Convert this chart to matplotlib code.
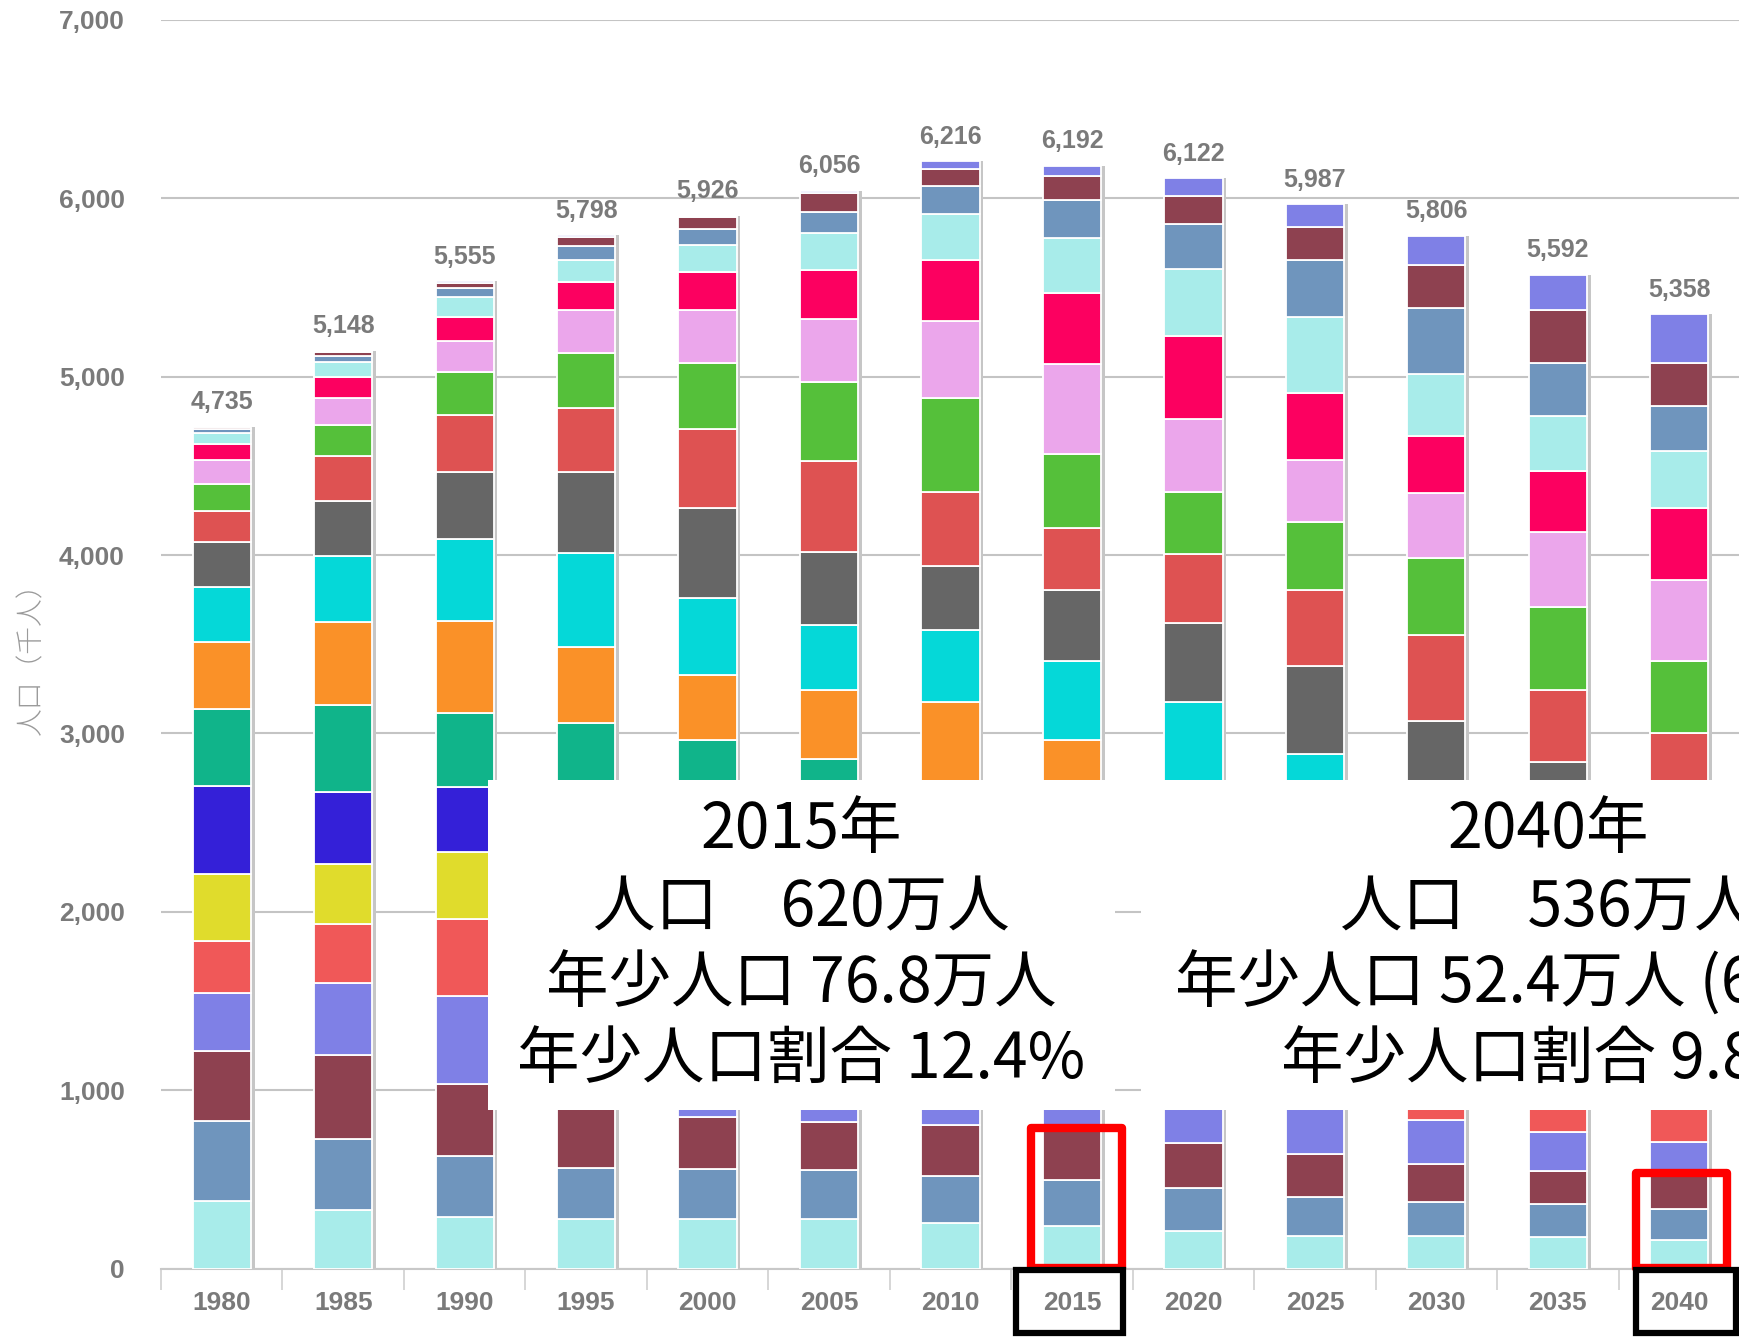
import numpy as np
import matplotlib
matplotlib.use("Agg")
import matplotlib.pyplot as plt
from matplotlib.patches import Rectangle
from matplotlib.ticker import FuncFormatter

# years and totals (thousand people)
years = [1980, 1985, 1990, 1995, 2000, 2005, 2010, 2015, 2020, 2025, 2030, 2035, 2040]
totals = [4735, 5148, 5555, 5798, 5926, 6056, 6216, 6192, 6122, 5987, 5806, 5592, 5358]

age_groups = ["0-4", "5-9", "10-14", "15-19", "20-24", "25-29", "30-34", "35-39", "40-44",
              "45-49", "50-54", "55-59", "60-64", "65-69", "70-74", "75-79", "80-84",
              "85-89", "90+"]

# population by 5-year age group (thousand people)
p1980 = [381, 444, 392, 328, 290, 376, 497, 430, 374, 308, 252, 176, 148, 136, 92, 60, 23, 10, 3]
p1985 = [328, 398, 470, 402, 332, 340, 402, 488, 462, 374, 306, 254, 174, 150, 116, 84, 37, 21, 7]
p1990 = [286, 342, 405, 497, 427, 377, 365, 414, 520, 456, 374, 323, 242, 173, 131, 115, 48, 30, 10]
p1995 = [276, 286, 345, 410, 520, 450, 390, 380, 430, 524, 452, 361, 308, 243, 156, 125, 78, 47, 12]
p2000 = [276, 280, 292, 336, 416, 525, 450, 389, 361, 433, 505, 443, 372, 297, 210, 151, 92, 66, 8]
p2005 = [276, 275, 269, 297, 346, 425, 524, 445, 387, 365, 411, 508, 442, 355, 276, 204, 116, 109, 14]
p2010 = [255, 266, 283, 285, 315, 365, 435, 525, 450, 402, 360, 415, 522, 432, 342, 262, 155, 93, 45]
p2015 = [241, 255, 278, 285, 290, 320, 365, 425, 505, 443, 398, 346, 417, 503, 396, 310, 213, 133, 60]
p2020 = [213, 238, 255, 275, 295, 305, 325, 362, 418, 493, 439, 389, 346, 409, 466, 375, 253, 159, 99]
p2025 = [184, 216, 240, 257, 282, 297, 312, 327, 358, 412, 494, 426, 378, 351, 374, 428, 318, 185, 129]
p2030 = [185, 188, 214, 246, 268, 283, 298, 312, 324, 352, 402, 480, 430, 365, 318, 353, 370, 240, 163]
p2035 = [176, 186, 184, 218, 254, 272, 284, 296, 309, 319, 344, 402, 467, 421, 342, 303, 301, 295, 200]
p2040 = [160, 172, 192, 184, 226, 258, 274, 286, 296, 305, 313, 335, 406, 454, 402, 323, 251, 241, 273]

palette = ["#a8ecea", "#6f95bd", "#8e4150", "#7f80e6", "#f05858", "#e0dc2c", "#3420d8",
           "#10b48a", "#fa9128", "#05d8d8", "#666666", "#de5252", "#55c03a", "#eba6eb",
           "#fc0060"]

data = np.array([p1980, p1985, p1990, p1995, p2000, p2005, p2010, p2015,
                 p2020, p2025, p2030, p2035, p2040])

W, H = 1740, 1340
fig = plt.figure(figsize=(W / 100, H / 100), dpi=100)
ax = fig.add_axes([161 / W, (H - 1268.5) / H, (W - 161) / W, 1248.5 / H])

num_font = ["Liberation Sans", "DejaVu Sans"]
jp_font = ["Noto Sans CJK JP", "DejaVu Sans"]
gray_txt = "#7a7a7a"

x = np.arange(len(years))
bw = 0.48
stack_top = data.sum(axis=1)

# soft shadow behind each column
ax.bar(x + 0.03, stack_top, width=bw, color="#c6c6c6", zorder=2)

bottom = np.zeros(len(years))
for i, grp in enumerate(age_groups):
    ax.bar(x, data[:, i], width=bw, bottom=bottom, color=palette[i % len(palette)],
           edgecolor="white", linewidth=1.3, zorder=3, label=grp)
    bottom += data[:, i]

for xi, top, tot in zip(x, stack_top, totals):
    ax.annotate(f"{tot:,}", (xi, top), xytext=(0, 9), textcoords="offset points",
                ha="center", va="bottom", fontsize=18, fontweight="bold",
                color=gray_txt, family=num_font, zorder=4)

ax.set_xlim(-0.5, len(years) - 0.5)
ax.set_ylim(0, 7000)
ax.set_yticks(range(0, 7001, 1000))
ax.yaxis.set_major_formatter(FuncFormatter(lambda v, p: f"{int(v):,}"))
ax.set_xticks(x)
ax.set_xticklabels([str(y) for y in years])
ax.set_xticks(np.arange(-0.5, len(years)), minor=True)
ax.tick_params(axis="y", length=0, pad=26, labelsize=19, labelcolor=gray_txt)
ax.tick_params(axis="x", which="major", length=0, pad=16, labelsize=19, labelcolor=gray_txt)
ax.tick_params(axis="x", which="minor", length=15, width=1.2, color="#d0d0d0")
for lab in ax.get_xticklabels() + ax.get_yticklabels():
    lab.set_family(num_font)
    lab.set_fontweight("bold")

ax.yaxis.grid(True, color="#c4c4c4", linewidth=1.5, zorder=0)
ax.set_axisbelow(True)
for s in ["left", "right", "top"]:
    ax.spines[s].set_visible(False)
ax.spines["bottom"].set_color("#c8c8c8")
ax.spines["bottom"].set_linewidth(1.5)

fig.text(31.7 / W, 1 - 652 / H, "人口（千人）", rotation=90, ha="center", va="center",
         fontsize=20, color="#9a9a9a", family=jp_font, fontweight="light")


def fbox(x0, y0, x1, y1, **kw):
    r = Rectangle((x0 / W, 1 - y1 / H), (x1 - x0) / W, (y1 - y0) / H,
                  transform=fig.transFigure, **kw)
    fig.add_artist(r)


# white note boxes
fbox(488, 780, 1115, 1110, facecolor="white", edgecolor="none", zorder=5)
fbox(1141, 780, 1900, 1110, facecolor="white", edgecolor="none", zorder=5)

note_2015 = ["2015年", "人口　620万人", "年少人口 76.8万人", "年少人口割合 12.4%"]
note_2040 = ["2040年", "人口　536万人", "年少人口 52.4万人 (68.2%)", "年少人口割合 9.8%"]
line_y = [830, 908, 984, 1060]
for txt, ly in zip(note_2015, line_y):
    fig.text(801 / W, 1 - ly / H, txt, ha="center", va="center", fontsize=45,
             color="black", family=jp_font, zorder=6)
for txt, ly in zip(note_2040, line_y):
    fig.text(1548 / W, 1 - ly / H, txt, ha="center", va="center", fontsize=45,
             color="black", family=jp_font, zorder=6)

# highlight frames
fbox(1031, 1127.5, 1122, 1267.5, facecolor="none", edgecolor="#ff0000", linewidth=6,
     joinstyle="round", zorder=7)
fbox(1636, 1172.5, 1727, 1267.5, facecolor="none", edgecolor="#ff0000", linewidth=6,
     joinstyle="round", zorder=7)
fbox(1016.5, 1269.5, 1122.5, 1333, facecolor="none", edgecolor="black", linewidth=4.5,
     zorder=7)
fbox(1636, 1269.5, 1736, 1333, facecolor="none", edgecolor="black", linewidth=4.5,
     zorder=7)

fig.savefig("out.png", dpi=100)
